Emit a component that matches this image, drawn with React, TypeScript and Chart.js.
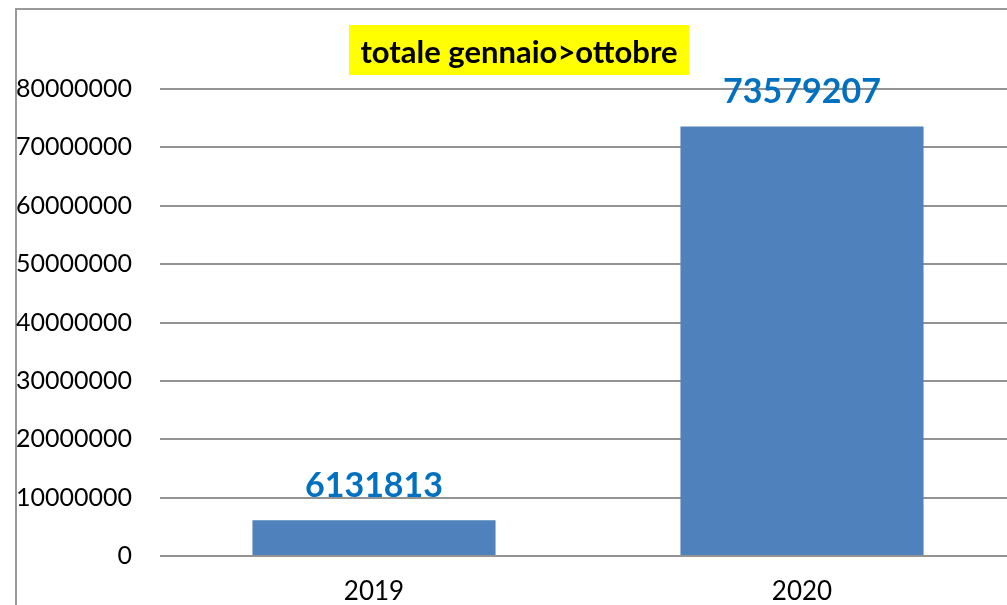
import React, { useEffect, useRef } from "react";
import { Chart, registerables } from "chart.js";

Chart.register(...registerables);

const categories = ["2019", "2020"];
const totals = [6131813, 73579207];
const yTicks = [0, 10000000, 20000000, 30000000, 40000000, 50000000, 60000000, 70000000, 80000000];
const titleText = "totale gennaio>ottobre";

const CANVAS_W = 1020;
const CANVAS_H = 620;

const framePlugin = {
  id: "frame",
  beforeDraw(chart: any) {
    const ctx = chart.ctx;
    ctx.save();
    ctx.fillStyle = "#ffffff";
    ctx.fillRect(0, 0, chart.width, chart.height);
    ctx.strokeStyle = "#9a9a9a";
    ctx.lineWidth = 2;
    ctx.beginPath();
    ctx.moveTo(16, CANVAS_H + 10);
    ctx.lineTo(16, 9);
    ctx.lineTo(CANVAS_W + 10, 9);
    ctx.stroke();
    ctx.restore();
  },
  afterDraw(chart: any) {
    const ctx = chart.ctx;
    ctx.save();
    ctx.font = "bold 31px Lato";
    const cx = 519;
    ctx.fillStyle = "#ffff00";
    ctx.fillRect(349, 25, 340, 50);
    ctx.fillStyle = "#000000";
    ctx.textAlign = "center";
    ctx.textBaseline = "alphabetic";
    ctx.fillText(titleText, cx, 63);
    ctx.restore();
  },
};

const labelPlugin = {
  id: "barLabels",
  afterDatasetsDraw(chart: any) {
    const ctx = chart.ctx;
    const meta = chart.getDatasetMeta(0);
    ctx.save();
    ctx.font = "bold 34px Lato";
    ctx.fillStyle = "#0070C0";
    ctx.textAlign = "center";
    ctx.textBaseline = "alphabetic";
    meta.data.forEach((bar: any, i: number) => {
      ctx.fillText(String(totals[i]), bar.x, bar.y - 23);
    });
    ctx.restore();
  },
};

export default function App() {
  const ref = useRef<HTMLCanvasElement | null>(null);
  useEffect(() => {
    if (!ref.current) return;
    const chart = new Chart(ref.current, {
      type: "bar",
      data: {
        labels: categories,
        datasets: [
          {
            data: totals,
            backgroundColor: "#4F81BD",
            categoryPercentage: 1,
            barPercentage: 0.568,
          },
        ],
      },
      options: {
        responsive: false,
        animation: false,
        devicePixelRatio: 1,
        layout: { padding: { top: 89, right: 4, bottom: 0, left: 0 } },
        plugins: {
          legend: { display: false },
          tooltip: { enabled: false },
          title: { display: false },
        },
        scales: {
          x: {
            grid: { display: false, drawTicks: false },
            border: { display: false },
            ticks: { color: "#000", font: { family: "Lato", size: 26 }, padding: 20 },
            afterFit(scale: any) {
              scale.height = CANVAS_H - 556;
            },
          },
          y: {
            min: 0,
            max: 80000000,
            afterBuildTicks(scale: any) {
              scale.ticks = yTicks.map((v) => ({ value: v }));
            },
            grid: { color: "#939393", lineWidth: 2, drawTicks: false },
            border: { display: false },
            ticks: {
              color: "#000",
              font: { family: "Lato", size: 25 },
              padding: 28,
              callback: (v: any) => String(v),
            },
            afterFit(scale: any) {
              scale.width = 160;
            },
          },
        },
      },
      plugins: [framePlugin, labelPlugin],
    });
    return () => chart.destroy();
  }, []);
  return (
    <div
      style={{
        position: "fixed",
        left: 0,
        top: 0,
        width: 1007,
        height: 605,
        overflow: "hidden",
        background: "#fff",
      }}
    >
      <canvas
        ref={ref}
        width={CANVAS_W}
        height={CANVAS_H}
        style={{ width: CANVAS_W, height: CANVAS_H, display: "block" }}
      />
    </div>
  );
}
